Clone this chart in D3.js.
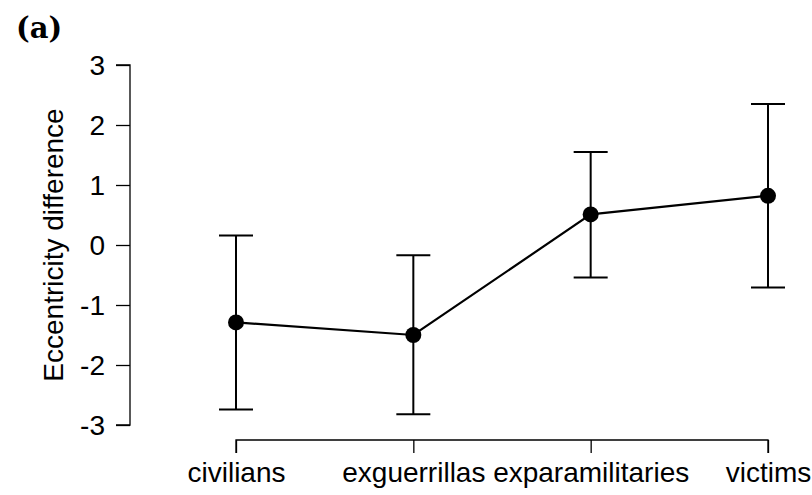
<!DOCTYPE html>
<html>
<head>
<meta charset="utf-8">
<script src="https://cdn.jsdelivr.net/npm/d3@7"></script>
<style>
  body { margin: 0; background: #fff; }
  svg { display: block; }
  text { font-family: "Liberation Sans", Arial, sans-serif; }
</style>
</head>
<body>
<div id="chart"></div>
<script>
// values
var groups = ["civilians", "exguerrillas", "exparamilitaries", "victims"];
var means = [-1.29, -1.50, 0.51, 0.82];
var lower = [-2.74, -2.82, -0.54, -0.71];
var upper = [0.16, -0.17, 1.55, 2.35];
var yTicks = [-3, -2, -1, 0, 1, 2, 3];

var width = 812, height = 495;
var svg = d3.select("#chart").append("svg")
  .attr("width", width)
  .attr("height", height);

var x = d3.scalePoint().domain(groups).range([236, 768]);
var y = d3.scaleLinear().domain([-3, 3]).range([425, 65]);

var data = groups.map(function(g, i) {
  return { name: g, mean: means[i], lo: lower[i], hi: upper[i] };
});

var fontSize = "28px";

// y axis
var yAxis = svg.append("g")
  .attr("transform", "translate(130,0)")
  .call(d3.axisLeft(y).tickValues(yTicks).tickSize(14).tickPadding(11)
    .tickFormat(function(d) { return d; }));
yAxis.select(".domain").attr("d", "M-14," + y(3) + "H0V" + y(-3) + "H-14");
yAxis.selectAll("line, .domain").attr("stroke", "#000").attr("stroke-width", 1.3);
yAxis.selectAll("text").style("font-size", fontSize).style("font-family", "Liberation Sans, Arial, sans-serif")
  .attr("fill", "#000").attr("dy", "0.35em");

// x axis
var xAxis = svg.append("g")
  .attr("transform", "translate(0,440)")
  .call(d3.axisBottom(x).tickSize(13).tickPadding(9));
xAxis.select(".domain").attr("d", "M236,13V0H768V13");
xAxis.selectAll("line, .domain").attr("stroke", "#000").attr("stroke-width", 1.3);
xAxis.selectAll("text").style("font-size", fontSize).style("font-family", "Liberation Sans, Arial, sans-serif")
  .attr("fill", "#000");

// axis title
svg.append("text")
  .attr("transform", "translate(63," + y(0) + ") rotate(-90)")
  .attr("text-anchor", "middle")
  .style("font-size", fontSize)
  .text("Eccentricity difference");

// panel label
svg.append("text")
  .attr("x", 16).attr("y", 38)
  .style("font-family", "DejaVu Serif, serif")
  .style("font-weight", "bold")
  .style("font-size", "29px")
  .text("(a)");

// error bars
var cap = 17;
var bars = svg.append("g").attr("stroke", "#000").attr("stroke-width", 2);
bars.selectAll(".err").data(data).enter().append("path")
  .attr("class", "err")
  .attr("fill", "none")
  .attr("d", function(d) {
    var cx = x(d.name);
    return "M" + (cx - cap) + "," + y(d.hi) + "H" + (cx + cap) +
      "M" + cx + "," + y(d.hi) + "V" + y(d.lo) +
      "M" + (cx - cap) + "," + y(d.lo) + "H" + (cx + cap);
  });

// connecting line
var line = d3.line()
  .x(function(d) { return x(d.name); })
  .y(function(d) { return y(d.mean); });
svg.append("path")
  .datum(data)
  .attr("fill", "none")
  .attr("stroke", "#000")
  .attr("stroke-width", 2.2)
  .attr("d", line);

// points
svg.selectAll(".pt").data(data).enter().append("circle")
  .attr("class", "pt")
  .attr("cx", function(d) { return x(d.name); })
  .attr("cy", function(d) { return y(d.mean); })
  .attr("r", 8)
  .attr("fill", "#000");
</script>
</body>
</html>
